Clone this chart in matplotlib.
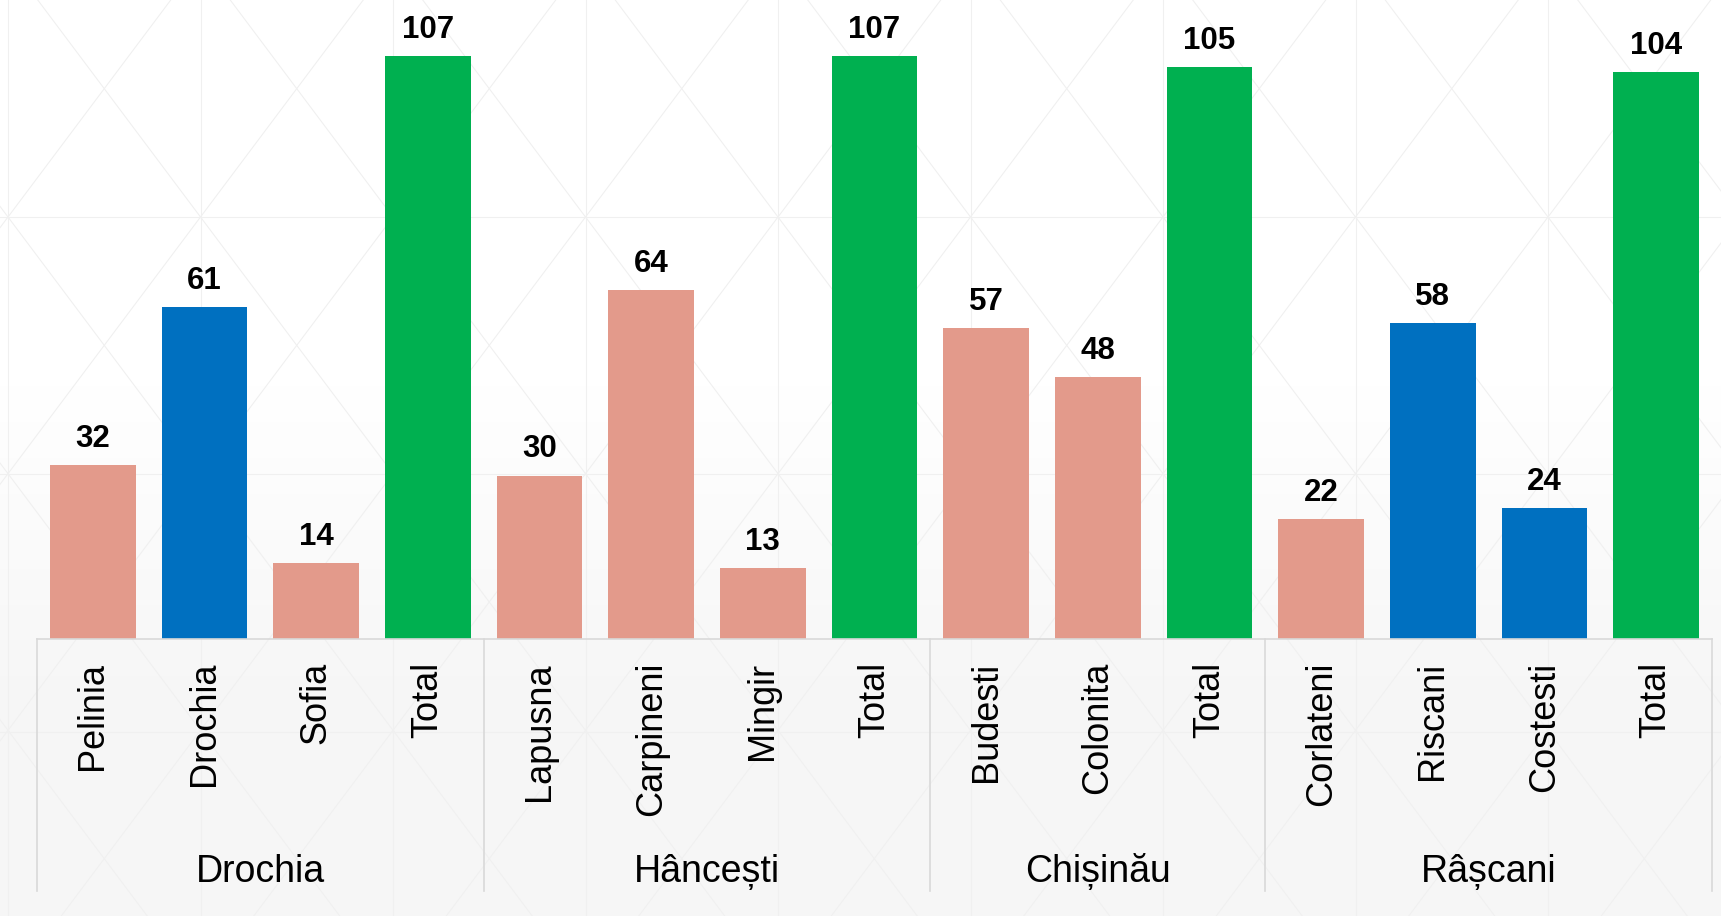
import numpy as np
import matplotlib
matplotlib.use("Agg")
import matplotlib.pyplot as plt
import matplotlib.transforms as mtransforms
from matplotlib.colors import LinearSegmentedColormap

plt.rcParams['font.family'] = ['Liberation Sans', 'DejaVu Sans']

# data
groups = ['Drochia', 'Hâncești', 'Chișinău', 'Râșcani']
group_sizes = [4, 4, 3, 4]
labels = ['Pelinia', 'Drochia', 'Sofia', 'Total',
          'Lapusna', 'Carpineni', 'Mingir', 'Total',
          'Budesti', 'Colonita', 'Total',
          'Corlateni', 'Riscani', 'Costesti', 'Total']
values = [32, 61, 14, 107,
          30, 64, 13, 107,
          57, 48, 105,
          22, 58, 24, 104]

# colours per bar
SALMON, BLUE, GREEN = '#E39A8B', '#0070C0', '#00B050'
bar_colors = [SALMON, BLUE, SALMON, GREEN,
              SALMON, SALMON, SALMON, GREEN,
              SALMON, SALMON, GREEN,
              SALMON, BLUE, BLUE, GREEN]

W, H = 1721, 916
fig = plt.figure(figsize=(W / 100, H / 100), dpi=100)

# background: soft gradient + faint triangle pattern
bg = fig.add_axes([0, 0, 1, 1], zorder=0)
bg.set_xlim(0, W)
bg.set_ylim(H, 0)
bg.axis('off')
grad = np.linspace(0, 1, 256).reshape(-1, 1)
cmap = LinearSegmentedColormap.from_list(
    'bg', [(0, '#ffffff'), (0.42, '#ffffff'), (0.78, '#f6f6f6'), (1, '#f6f6f6')])
bg.imshow(grad, cmap=cmap, extent=[0, W, H, 0], aspect='auto')
lc = '#f0f0f0'
for k in range(-12, 22):
    x0 = 8 + 192.5 * k
    bg.plot([x0, x0], [0, H], color=lc, lw=0.8)
    bg.plot([x0 - 217 * 0.75, x0 + (H - 217) * 0.75], [0, H], color=lc, lw=0.8)
    bg.plot([x0 + 217 * 0.75, x0 - (H - 217) * 0.75], [0, H], color=lc, lw=0.8)
for y0 in [217, 474, 732]:
    bg.plot([0, W], [y0, y0], color=lc, lw=0.8)

# main axes
base_y = 639
left, right = 37, 1712
ax = fig.add_axes([left / W, (H - base_y) / H, (right - left) / W, base_y / H], zorder=1)
ax.patch.set_alpha(0)
x = np.arange(len(values))
ax.bar(x, values, width=0.77, color=bar_colors, zorder=2)
ax.set_xlim(-0.5, len(values) - 0.5)
ax.set_ylim(0, base_y / 5.449)
for s in ['top', 'right', 'left']:
    ax.spines[s].set_visible(False)
ax.spines['bottom'].set_color('#d9d9d9')
ax.spines['bottom'].set_linewidth(1.2)
ax.set_xticks([])
ax.set_yticks([])

for xi, v in zip(x, values):
    ax.annotate(str(v), (xi, v), xytext=(0, 13), textcoords='offset points',
                ha='center', va='baseline', fontsize=22.5, fontweight='bold')

trans = mtransforms.blended_transform_factory(ax.transData, ax.transAxes)
for xi, lab in zip(x, labels):
    ax.text(xi, -(662 - base_y) / base_y, lab, rotation=90, ha='center', va='top',
            fontsize=26, transform=trans)

edges = np.concatenate([[0], np.cumsum(group_sizes)]) - 0.5
for e in edges:
    ax.plot([e, e], [0, -(891 - base_y) / base_y], color='#d9d9d9', lw=1.2,
            transform=trans, clip_on=False)
for g, a, b in zip(groups, edges[:-1], edges[1:]):
    ax.text((a + b) / 2, -(872 - base_y) / base_y, g, ha='center', va='center',
            fontsize=27, transform=trans)

fig.savefig('out.png', dpi=100)
